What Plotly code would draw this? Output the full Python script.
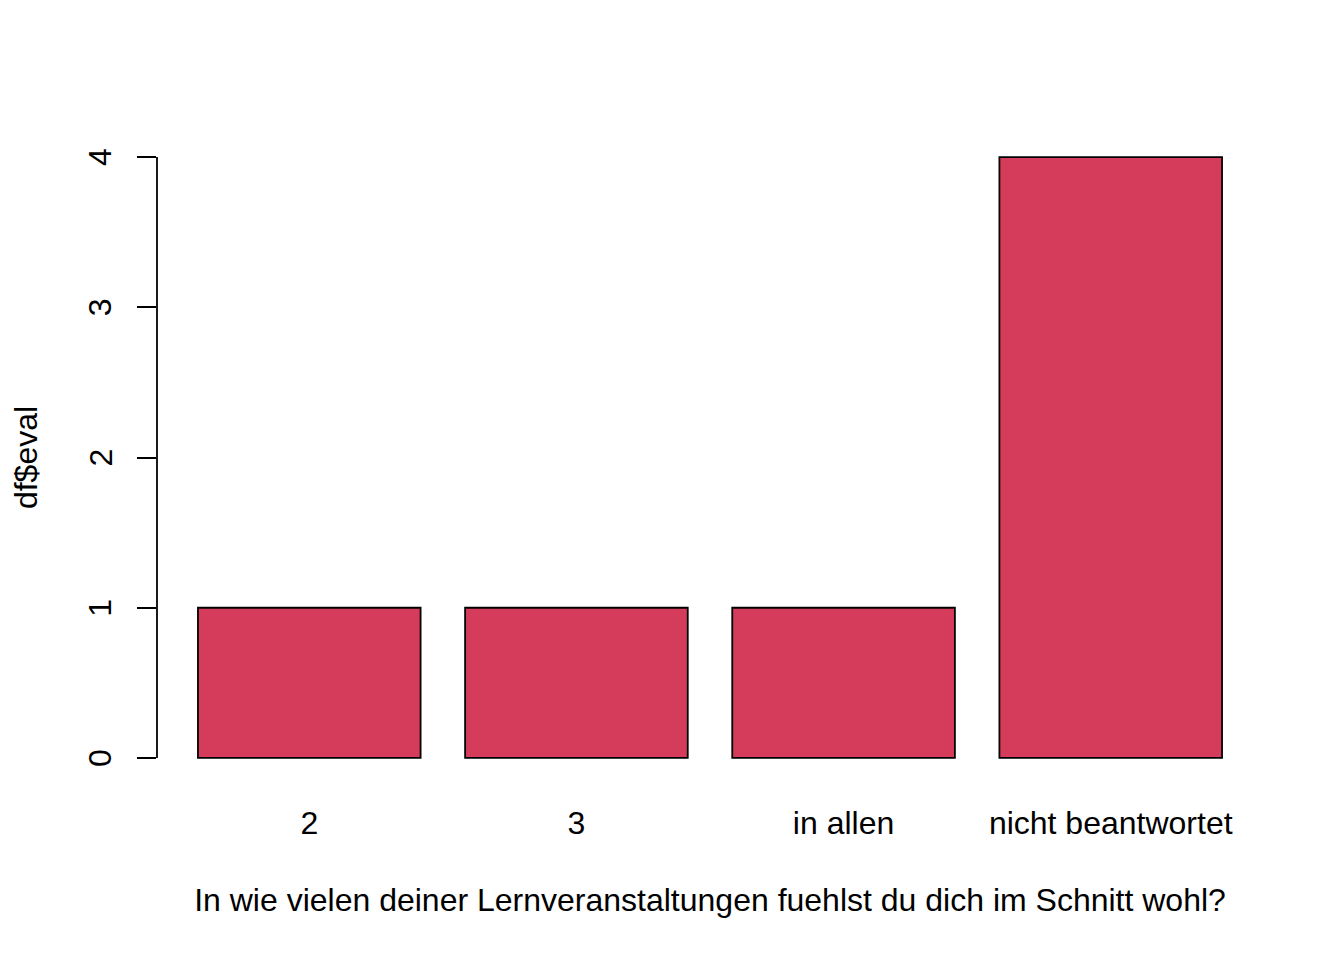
import plotly.graph_objects as go

# data
categories = ["2", "3", "in allen", "nicht beantwortet"]
counts = [1, 1, 1, 4]
y_ticks = [0, 1, 2, 3, 4]

bar_color = "#D53B5A"
font_family = "Liberation Sans, Arial, sans-serif"

fig = go.Figure(go.Bar(
    x=categories,
    y=counts,
    marker=dict(color=bar_color, line=dict(color="black", width=1.8)),
))

# page body has an 8px margin, so margins are offset to compensate
fig.update_layout(
    width=1344,
    height=960,
    plot_bgcolor="white",
    paper_bgcolor="white",
    font=dict(family=font_family, size=32, color="black"),
    margin=dict(l=149, r=89, t=125, b=186),
    bargap=0.2 / 1.2,
    showlegend=False,
)

fig.update_xaxes(
    type="category",
    range=[-0.57, 3.57],
    automargin=False,
    showline=False,
    showgrid=False,
    zeroline=False,
    ticks="outside",
    ticklen=13,
    tickcolor="rgba(0,0,0,0)",
    title=dict(text="In wie vielen deiner Lernveranstaltungen fuehlst du dich im Schnitt wohl?",
               standoff=48, font=dict(size=32)),
)

fig.update_yaxes(
    range=[-0.16, 4.16],
    automargin=False,
    tickvals=y_ticks,
    showticklabels=False,
    showline=False,
    showgrid=False,
    zeroline=False,
    ticks="outside",
    ticklen=19,
    tickwidth=1.8,
    tickcolor="black",
    title=dict(text="df$eval", standoff=100, font=dict(size=32)),
)

# R-style y axis line spanning only the tick range
fig.add_shape(type="line", xref="paper", yref="y", x0=0, x1=0,
              y0=min(y_ticks), y1=max(y_ticks),
              line=dict(color="black", width=1.8))

# rotated y tick labels, centred on their ticks like R's axis()
for v in y_ticks:
    fig.add_annotation(x=0, xref="paper", y=v, yref="y", text=str(v),
                       textangle=-90, showarrow=False, xanchor="center",
                       yanchor="middle", xshift=-57)

fig.write_html("out.html")
